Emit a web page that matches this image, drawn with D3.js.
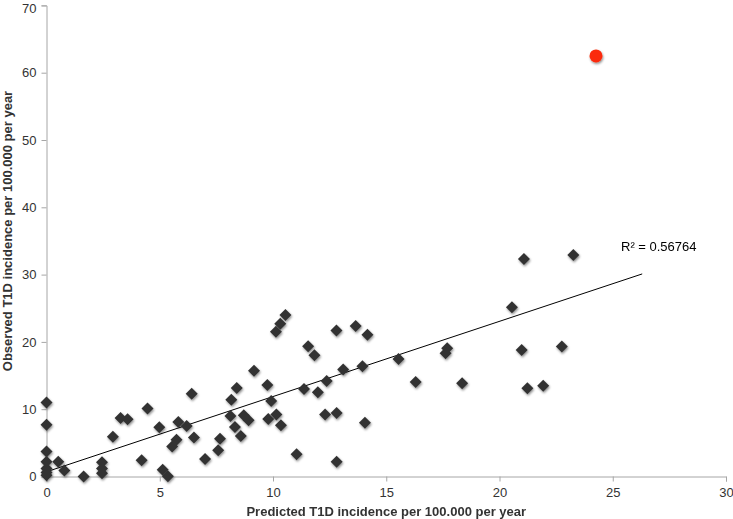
<!DOCTYPE html>
<html><head><meta charset="utf-8">
<script src="https://cdn.jsdelivr.net/npm/d3@7"></script>
<style>
html,body{margin:0;padding:0;background:#fff;}
svg{display:block;font-family:"Liberation Sans",Arial,sans-serif;}
</style></head>
<body>
<svg id="c" width="733" height="519"></svg>
<script>
// Data
const predicted = [0,0,0,0,0,0,0,0.52,0.79,1.64,2.45,2.45,2.45,2.93,3.27,3.58,4.2,4.46,4.98,5.13,5.36,5.55,5.74,5.82,6.19,6.41,6.51,7.0,7.58,7.66,8.16,8.4,8.12,8.32,8.58,8.71,8.92,9.16,9.75,9.92,9.79,10.15,10.35,10.13,10.32,10.55,11.04,11.37,11.55,11.83,11.98,12.3,12.37,12.8,12.81,12.81,13.1,13.65,13.95,14.06,14.17,15.54,16.3,17.62,17.69,18.35,20.55,20.98,21.08,21.23,21.93,22.75,23.26];
const observed  = [11.0,7.7,3.7,2.2,1.2,0.6,0.2,2.2,0.9,0.0,2.1,1.2,0.5,5.9,8.7,8.5,2.4,10.1,7.3,1.0,0.05,4.45,5.45,8.1,7.5,12.3,5.8,2.6,3.9,5.6,11.4,13.15,9.0,7.35,6.0,9.1,8.35,15.7,13.6,11.2,8.55,9.2,7.6,21.5,22.7,24.0,3.3,13.0,19.35,18.0,12.5,9.2,14.2,21.7,9.45,2.2,15.9,22.36,16.4,8.0,21.05,17.45,14.05,18.3,19.05,13.85,25.15,18.8,32.3,13.1,13.5,19.3,32.9];
const outlierX = [24.26];
const outlierY = [62.5];
const trendX = [0, 26.3];
const trendY = [0.7, 30.1];
const xTicks = [0,5,10,15,20,25,30];
const yTicks = [0,10,20,30,40,50,60,70];
const rSquared = "R² = 0.56764";
const xTitle = "Predicted T1D incidence per 100.000 per year";
const yTitle = "Observed T1D incidence per 100.000 per year";

const svg = d3.select("#c");
const x = d3.scaleLinear().domain([0,30]).range([46.5,726]);
const y = d3.scaleLinear().domain([0,70]).range([476.5,5.4]);

const defs = svg.append("defs");
const f = defs.append("filter").attr("id","sh").attr("x","-50%").attr("y","-50%").attr("width","200%").attr("height","200%");
f.append("feDropShadow").attr("dx",0.8).attr("dy",1.5).attr("stdDeviation",1.3).attr("flood-color","#000").attr("flood-opacity",0.45);

const axisColor = "#a6a6a6";
// x axis
const gx = svg.append("g").attr("transform",`translate(0,${y(0)})`)
  .call(d3.axisBottom(x).tickValues(xTicks).tickSize(5).tickPadding(6).tickFormat(d3.format("d")));
// y axis
const gy = svg.append("g").attr("transform",`translate(${x(0)},0)`)
  .call(d3.axisLeft(y).tickValues(yTicks).tickSize(5).tickPadding(5).tickFormat(d3.format("d")));
[gx,gy].forEach(g=>{
  g.select(".domain").attr("stroke",axisColor);
  g.selectAll(".tick line").attr("stroke",axisColor);
  g.selectAll(".tick text").attr("fill","#333").style("font-size","13px").style("font-family","'Liberation Sans',Arial,sans-serif");
});
// keep the top tick label inside the picture
gy.selectAll(".tick text").filter(d=>d===70).attr("dy","0.55em");

// trend line
svg.append("line")
  .attr("x1",x(trendX[0])).attr("y1",y(trendY[0]))
  .attr("x2",x(trendX[1])).attr("y2",y(trendY[1]))
  .attr("stroke","#000").attr("stroke-width",1);

// diamonds
const pts = predicted.map((d,i)=>({x:d,y:observed[i]}));
svg.append("g").attr("filter","url(#sh)").selectAll("path").data(pts).join("path")
  .attr("d", d3.symbol().type(d3.symbolSquare).size(72))
  .attr("transform", d=>`translate(${x(d.x)},${y(d.y)}) rotate(45)`)
  .attr("fill","#333");

// outlier
svg.append("g").attr("filter","url(#sh)").selectAll("circle").data(outlierX.map((d,i)=>({x:d,y:outlierY[i]}))).join("circle")
  .attr("cx",d=>x(d.x)).attr("cy",d=>y(d.y)).attr("r",6.5).attr("fill","#fb2a0c");

// R2 label
svg.append("text").attr("x",621).attr("y",251).attr("fill","#000").style("font-size","13px").text(rSquared);

// axis titles
svg.append("text").attr("x",(x(0)+x(30))/2).attr("y",516).attr("text-anchor","middle")
  .style("font-size","13px").style("font-weight","bold").attr("fill","#333").text(xTitle);
svg.append("text").attr("transform",`translate(12,231) rotate(-90)`).attr("text-anchor","middle")
  .style("font-size","13px").style("font-weight","bold").attr("fill","#333").text(yTitle);
</script>
</body></html>
